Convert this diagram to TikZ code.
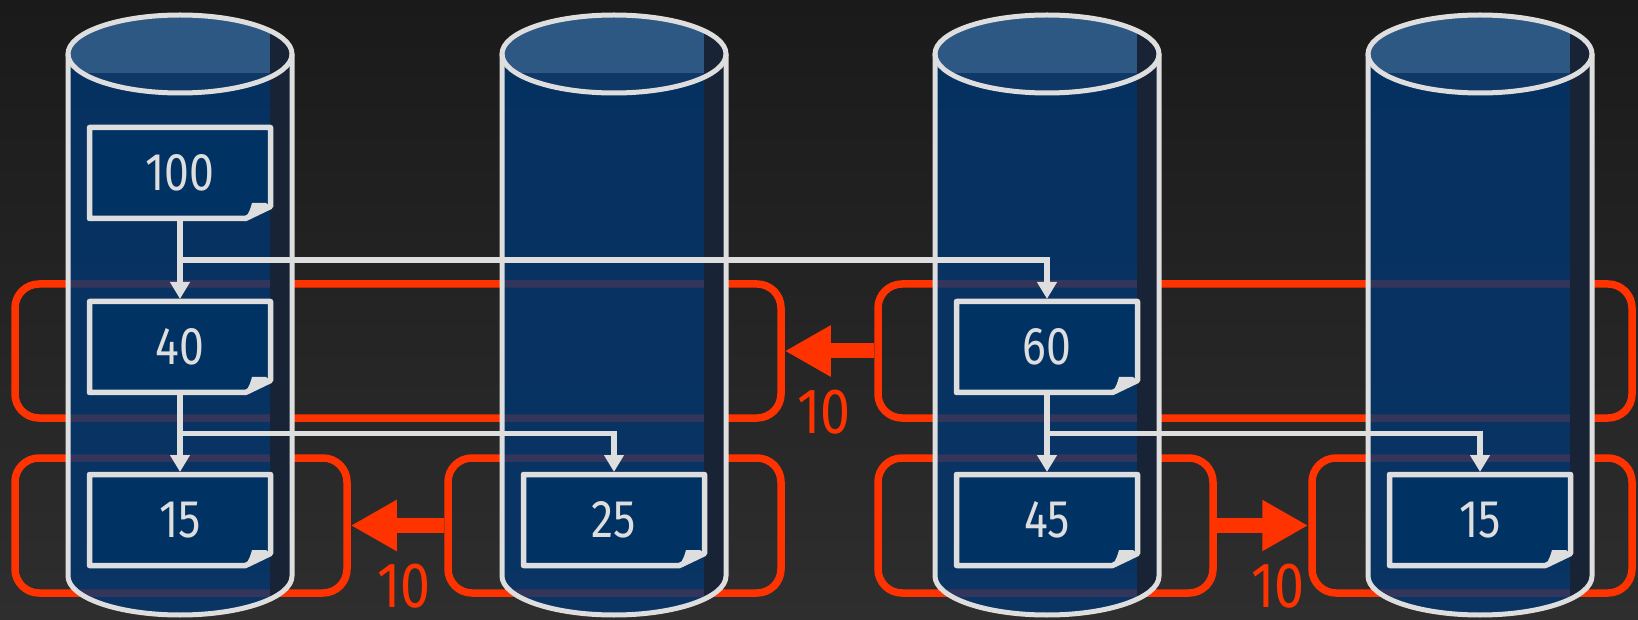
\documentclass[tikz,border=0pt]{standalone}
\usepackage{fontspec}
\setmainfont{Fira Sans}[FakeStretch=0.84]
\usepackage{tikz}
\usetikzlibrary{calc,arrows.meta,positioning}
\definecolor{bgTop}{RGB}{26,26,26}
\definecolor{bgBottom}{RGB}{46,46,46}
\definecolor{cylBlue}{RGB}{0,54,114}
\definecolor{boxBlue}{RGB}{0,50,100}
\definecolor{capBlue}{RGB}{46,88,132}
\definecolor{capDark}{RGB}{16,56,102}
\definecolor{stripDark}{RGB}{24,36,54}
\definecolor{lineGray}{RGB}{222,222,222}
\definecolor{mainRed}{RGB}{255,51,0}

% cylinder centred at x = #1
\newcommand{\drum}[1]{%
    \fill[cylBlue, fill opacity=0.8] (#1-112,565) -- (#1-112,43) arc (180:360:112 and 39) -- (#1+112,565) -- cycle;
    \begin{scope}
        \clip (#1-112,565) -- (#1-112,43) arc (180:360:112 and 39) -- (#1+112,565) -- cycle;
        \fill[stripDark] (#1+90,0) rectangle (#1+113,565);
    \end{scope}
    \fill[capDark] (#1,565) ellipse (112 and 39);
    \begin{scope}
        \clip (#1,565) ellipse (112 and 39);
        \fill[capBlue] (#1-115,546) rectangle (#1+115,610);
        \fill[stripDark] (#1+90,520) rectangle (#1+113,610);
    \end{scope}
    \draw[cylline] (#1-112,565) -- (#1-112,43) arc (180:360:112 and 39) -- (#1+112,565);
    \draw[cylline] (#1,565) ellipse (112 and 39);
}

% document box: name, x, y, text
\newcommand{\docbox}[4]{%
    \draw[boxline] (#2-90.5,#3+45.5) -- (#2+90.5,#3+45.5) -- (#2+90.5,#3-33.5) -- (#2+65.5,#3-45.5) -- (#2-90.5,#3-45.5) -- cycle;
    \fill[lineGray] (#2+65.5,#3-45.5) -- (#2+90.5,#3-33.5) -- (#2+86,#3-30) -- (#2+72,#3-30) .. controls (#2+70,#3-37) .. (#2+65.5,#3-45.5) -- cycle;
    \node[boxtext] (#1) at (#2,#3) {#4};
}

\begin{document}
\begin{tikzpicture}[x=1pt, y=1pt,
    cylline/.style={lineGray, line width=5pt},
    boxline/.style={draw=lineGray, fill=boxBlue, line width=5.5pt, line join=round},
    boxtext/.style={minimum width=181pt, minimum height=91pt, inner sep=0pt, outer sep=0pt, text=lineGray, font=\fontsize{53}{53}\selectfont},
    group/.style={draw=mainRed, line width=7.5pt, rounded corners=24pt, inner sep=0pt},
    flow/.style={lineGray, line width=5.5pt, shorten >=2.5pt, -{Triangle[length=17pt,width=19pt]}},
    bigflow/.style={mainRed, line width=15pt, -{Triangle[length=46pt,width=48pt]}},
    weight/.style={text=mainRed, font=\fontsize{64}{64}\selectfont, inner sep=0pt}]
    \useasboundingbox (0,0) rectangle (1638,619);
    \shade[top color=bgTop, bottom color=bgBottom] (0,0) rectangle (1638,619);

    % partitions
    \node[group, minimum width=766pt, minimum height=134pt] (g2a) at (398,268) {};
    \node[group, minimum width=754pt, minimum height=134pt] (g2b) at (1255,268) {};
    \node[group, minimum width=332pt, minimum height=135pt] (g3a) at (181,93.5) {};
    \node[group, minimum width=333pt, minimum height=135pt] (g3b) at (614.5,93.5) {};
    \node[group, minimum width=335pt, minimum height=135pt] (g3c) at (1045.5,93.5) {};
    \node[group, minimum width=320pt, minimum height=135pt] (g3d) at (1472,93.5) {};

    \drum{180}
    \drum{614}
    \drum{1047}
    \drum{1480}

    \docbox{b100}{180}{446}{100}
    \docbox{b40}{180}{272}{40}
    \docbox{b60}{1047}{272}{60}
    \docbox{b15a}{180}{99}{15}
    \docbox{b25}{614}{99}{25}
    \docbox{b45}{1047}{99}{45}
    \docbox{b15b}{1480}{99}{15}

    \coordinate (j1) at ($(b100.south)!0.5!(b40.north)$);
    \coordinate (j2) at ($(b40.south)!0.5!(b15a.north)$);
    \coordinate (j3) at ($(b60.south)!0.5!(b45.north)$);
    \draw[flow] (b100.south) -- (b40.north);
    \draw[flow] (j1) -| (b60.north);
    \draw[flow] (b40.south) -- (b15a.north);
    \draw[flow] (j2) -| (b25.north);
    \draw[flow] (b60.south) -- (b45.north);
    \draw[flow] (j3) -| (b15b.north);

    \draw[bigflow] (g2b.west) -- (g2a.east) node[weight, pos=0.56, yshift=-61pt] {10};
    \draw[bigflow] (g3b.west) -- (g3a.east) node[weight, pos=0.43, yshift=-61pt] {10};
    \draw[bigflow] (g3c.east) -- (g3d.west) node[weight, pos=0.67, yshift=-61pt] {10};
\end{tikzpicture}
\end{document}
